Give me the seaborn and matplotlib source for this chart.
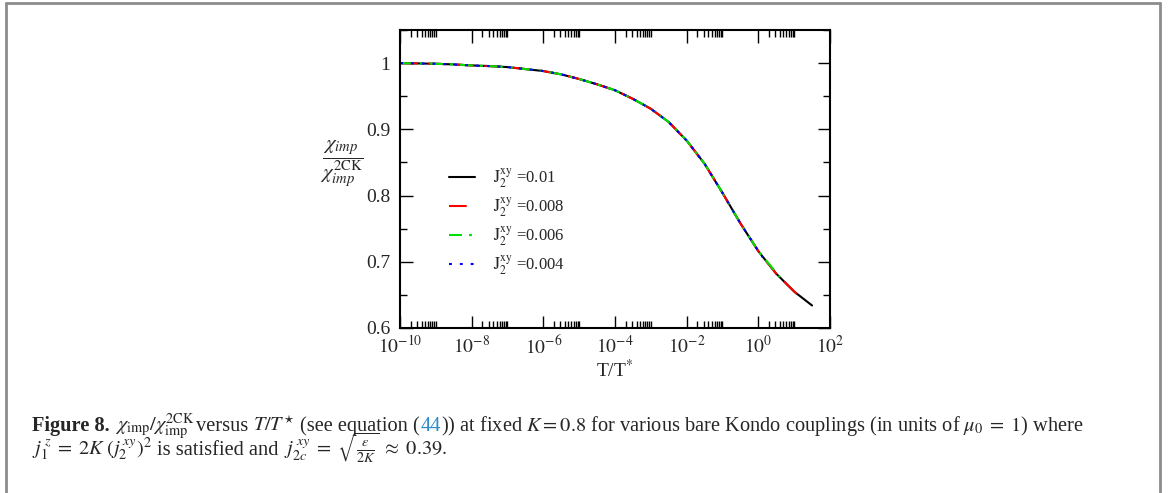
import numpy as np
import pandas as pd
import matplotlib
matplotlib.use("Agg")
import matplotlib.pyplot as plt
import matplotlib.ticker as mticker
from matplotlib.lines import Line2D
from matplotlib.transforms import IdentityTransform
import seaborn as sns

# ---------------- data ----------------
T_black = [1e-10, 3.16e-10, 1e-9, 3.16e-9, 1e-8, 3.16e-8, 1e-7, 3.16e-7, 1e-6, 3.16e-6,
           1e-5, 3.16e-5, 1e-4, 3.16e-4, 1e-3, 3.16e-3, 1e-2, 3.16e-2, 1e-1, 3.16e-1,
           1.0, 3.16, 10.0, 31.6]
chi_black = [1.000, 0.9995, 0.999, 0.998, 0.9965, 0.9955, 0.994, 0.991, 0.988, 0.983,
             0.976, 0.968, 0.959, 0.946, 0.931, 0.911, 0.883, 0.848, 0.804, 0.758,
             0.716, 0.682, 0.655, 0.634]
T_red = [1e-10, 3.16e-10, 1e-9, 3.16e-9, 1e-8, 3.16e-8, 1e-7, 3.16e-7, 1e-6, 3.16e-6,
         1e-5, 3.16e-5, 1e-4, 3.16e-4, 1e-3, 3.16e-3, 1e-2, 3.16e-2, 1e-1, 3.16e-1,
         1.0, 3.16, 12.0]
chi_red = [1.000, 0.9995, 0.999, 0.998, 0.9965, 0.9955, 0.994, 0.991, 0.988, 0.983,
           0.976, 0.968, 0.959, 0.946, 0.931, 0.911, 0.883, 0.848, 0.804, 0.758,
           0.716, 0.682, 0.651]
T_green = [1e-10, 3.16e-10, 1e-9, 3.16e-9, 1e-8, 3.16e-8, 1e-7, 3.16e-7, 1e-6, 3.16e-6,
           1e-5, 3.16e-5, 1e-4, 3.16e-4, 1e-3, 3.16e-3, 1e-2, 3.16e-2, 1e-1, 3.16e-1,
           1.0, 4.0]
chi_green = [1.000, 0.9995, 0.999, 0.998, 0.9965, 0.9955, 0.994, 0.991, 0.988, 0.983,
             0.976, 0.968, 0.959, 0.946, 0.931, 0.911, 0.883, 0.848, 0.804, 0.758,
             0.716, 0.677]
T_blue = [1e-10, 3.16e-10, 1e-9, 3.16e-9, 1e-8, 3.16e-8, 1e-7, 3.16e-7, 1e-6, 3.16e-6,
          1e-5, 3.16e-5, 1e-4, 3.16e-4, 1e-3, 3.16e-3, 1e-2, 3.16e-2, 1e-1, 3.16e-1,
          1.3]
chi_blue = [1.000, 0.9995, 0.999, 0.998, 0.9965, 0.9955, 0.994, 0.991, 0.988, 0.983,
            0.976, 0.968, 0.959, 0.946, 0.931, 0.911, 0.883, 0.848, 0.804, 0.758,
            0.707]

series_labels = [r"$\mathrm{J}_2^{\mathrm{xy}}$ =0.01", r"$\mathrm{J}_2^{\mathrm{xy}}$ =0.008",
                 r"$\mathrm{J}_2^{\mathrm{xy}}$ =0.006", r"$\mathrm{J}_2^{\mathrm{xy}}$ =0.004"]
x_ticks = [1e-10, 1e-8, 1e-6, 1e-4, 1e-2, 1e0, 1e2]
x_ticklabels = [r"$10^{-10}$", r"$10^{-8}$", r"$10^{-6}$", r"$10^{-4}$", r"$10^{-2}$", r"$10^{0}$", r"$10^{2}$"]
y_ticks = [0.6, 0.7, 0.8, 0.9, 1.0]
y_ticklabels = ["0.6", "0.7", "0.8", "0.9", "1"]

# ---------------- style ----------------
sns.set_theme(style="ticks")
plt.rcParams["font.family"] = ["Liberation Serif", "DejaVu Serif"]
plt.rcParams["mathtext.fontset"] = "stix"
plt.rcParams["axes.linewidth"] = 1.5

W, H, DPI = 1168, 493, 100
fig = plt.figure(figsize=(W / DPI, H / DPI), dpi=DPI)
fig.patch.set_facecolor("white")
ax = fig.add_axes([400 / W, 1 - 328 / H, 430 / W, 298 / H])
ax.set_facecolor("white")

specs = [
    (T_black, chi_black, "black", "-"),
    (T_red, chi_red, "#ff0000", (0, (8.5, 5))),
    (T_green, chi_green, "#00e000", (0, (6.2, 3.4, 1.4, 3.4))),
    (T_blue, chi_blue, "#0000ff", (0, (1.4, 3.8))),
]
for (tx, cy, col, ls), lab in zip(specs, series_labels):
    df = pd.DataFrame({"T": tx, "chi": cy})
    sns.lineplot(data=df, x="T", y="chi", ax=ax, color=col, linestyle=ls,
                 linewidth=1.5, label=lab, estimator=None, sort=False)

ax.set_xscale("log")
ax.set_xlim(1e-10, 1e2)
ax.set_ylim(0.6, 1.05)
ax.set_xticks(x_ticks)
ax.set_xticklabels(x_ticklabels, fontsize=14)
ax.xaxis.set_minor_locator(mticker.FixedLocator(
    [k * 10.0 ** e for e in range(-10, 2, 2) for k in range(2, 11)]))
ax.xaxis.set_minor_formatter(mticker.NullFormatter())
ax.set_yticks(y_ticks)
ax.set_yticklabels(y_ticklabels, fontsize=14)
ax.yaxis.set_minor_locator(mticker.FixedLocator([0.65, 0.75, 0.85, 0.95, 1.05]))
ax.tick_params(which="both", direction="in", top=True, right=True, color="black", width=1.0)
ax.tick_params(which="major", length=9)
ax.tick_params(axis="x", which="major", pad=5)
ax.tick_params(axis="y", which="major", pad=7)
ax.tick_params(which="minor", length=5)
for s in ax.spines.values():
    s.set_color("black")
    s.set_linewidth(1.5)

ax.set_xlabel(r"T/T$^{*}$", fontsize=14, labelpad=1)
ax.set_ylabel(r"$\dfrac{\chi_{imp}}{\chi_{imp}^{\mathrm{2CK}}}$", fontsize=15, rotation=0,
              va="center", ha="center", labelpad=0)
ax.yaxis.set_label_coords(-0.135, 0.55)

leg = ax.legend(loc="upper left", bbox_to_anchor=(0.098, 0.565), frameon=False, fontsize=12,
                handlelength=1.55, handletextpad=1.1, labelspacing=0.32, borderaxespad=0)

# ---------------- caption ----------------
fig.add_artist(Line2D([6 / W, 6 / W], [0, 1 - 3 / H], color="#8c8c8c", lw=2.0))
fig.add_artist(Line2D([6 / W, 1160 / W], [1 - 3 / H, 1 - 3 / H], color="#8c8c8c", lw=2.0))
fig.add_artist(Line2D([1160 / W, 1160 / W], [0, 1 - 3 / H], color="#8c8c8c", lw=2.0))

renderer = fig.canvas.get_renderer()
ident = IdentityTransform()


def draw_line(pieces, x0, ybase, fs, draw=True):
    x = x0
    arts = []
    for s, kw, gap in pieces:
        t = fig.text(x, ybase, s, fontsize=fs, transform=ident, va="baseline", ha="left", **kw)
        bb = t.get_window_extent(renderer)
        x += bb.width + gap * fs * DPI / 72
        arts.append(t)
    if not draw:
        for a in arts:
            a.remove()
    return x - x0


blue44 = "#2a8ccd"
line1 = [
    ("Figure 8.", {"fontweight": "bold"}, 0.25),
    (r"$\chi_{\mathrm{imp}}/\chi_{\mathrm{imp}}^{\mathrm{2CK}}$", {}, 0.05),
    ("versus", {}, 0.25),
    (r"$T/T^{\star}$", {}, 0.25),
    ("(see equation (", {}, 0.03),
    ("44", {"color": blue44}, 0.03),
    (r")) at fixed $K = 0.8$ for various bare Kondo couplings (in units of $\mu_0\;=\;1$) where", {}, 0.0),
]
line2 = [
    (r"$j_1^{\,z}\;=\;2K\;(j_2^{\,xy})^2$", {}, 0.25),
    ("is satisfied and", {}, 0.25),
    (r"$j_{2c}^{\,xy}\;=\;\sqrt{\frac{\epsilon}{2K}}\;\approx\;0.39.$", {}, 0.0),
]

fs0 = 12.0
w0 = draw_line(line1, 32, H - 431, fs0, draw=False)
fs = fs0 * 1055.0 / w0
draw_line(line1, 32, H - 431, fs)
draw_line(line2, 32, H - 455, fs)

fig.savefig("out.png", dpi=DPI, facecolor="white")
